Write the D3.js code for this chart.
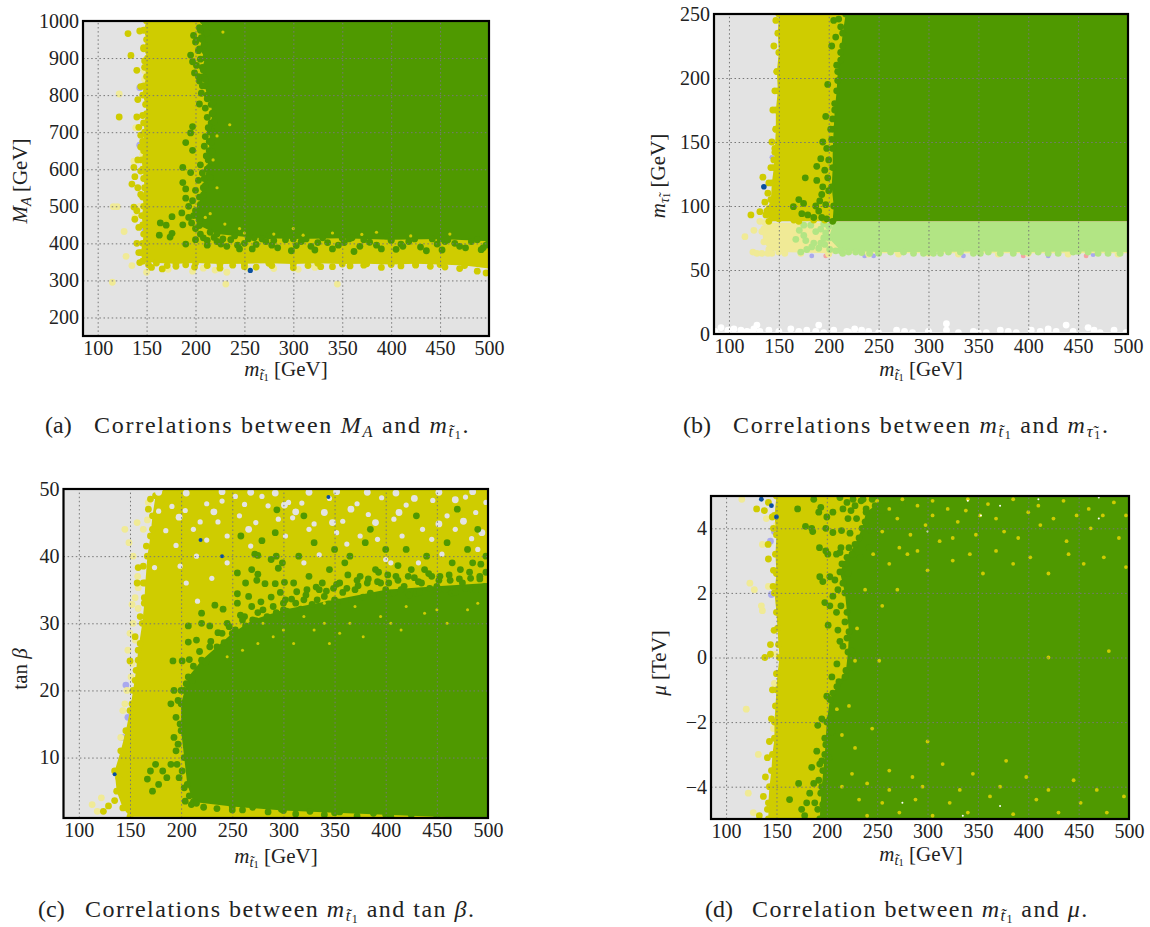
<!DOCTYPE html>
<html><head><meta charset="utf-8">
<script src="https://cdnjs.cloudflare.com/ajax/libs/d3/7.8.5/d3.min.js"></script>
<style>html,body{margin:0;background:#fff}svg{display:block}text{font-family:"Liberation Serif",serif;fill:#222}</style>
</head><body><svg id="c" width="1150" height="927"></svg>
<script>
// ---------- ticks ----------
const xTicks=[100,150,200,250,300,350,400,450,500];
const aTicks=[200,300,400,500,600,700,800,900,1000];
const bTicks=[0,50,100,150,200,250];
const cTicks=[10,20,30,40,50];
const dTicks=[-4,-2,0,2,4];
// ---------- panel (a) M_A vs stop mass ----------
const aYellowBody=[[150,1000],[147,975],[150,950],[147,925],[151,900],[148,875],[150,850],[147,825],[146,800],[149,775],[150,750],[147,725],[148,700],[146,675],[147,650],[145,625],[146,600],[147,575],[148,550],[146,525],[147,500],[145,475],[146,450],[147,425],[146,400],[144,375],[146,352],[160,347],[180,345],[200,347],[225,344],[250,345],[275,346],[300,344],[325,346],[350,344],[375,345],[400,343],[425,345],[450,343],[475,340],[500,332],[500,1000]];
const aYellowDots=[[131,966],[134,907],[140,867],[122,741],[143,973],[147,928],[148,892],[144,823],[141,788],[146,745],[140,741],[142,713],[144,692],[144,660],[141,625],[137,605],[144,595],[138,580],[135,560],[141,550],[144,532],[137,498],[140,488],[138,465],[142,443],[140,400],[142,375],[143,348],[155,335],[166,331],[180,338],[199,336],[225,333],[262,336],[300,334],[340,337],[390,335],[440,338],[470,332],[488,325],[497,320],[152,342],[171,340],[190,342],[212,340],[238,341],[250,337],[278,340],[315,340],[328,337],[358,339],[372,341],[410,339],[425,341],[455,336]];
const aPaleDots=[[122,803],[116,499],[120,499],[127,432],[137,622],[148,843],[148,865],[139,712],[146,640],[143,500],[138,470],[208,333],[220,328],[232,322],[253,333],[305,330],[345,290],[231,290],[129,365],[115,295],[135,340],[150,322],[172,330],[197,325],[280,332],[322,335]];
const aGreenBody=[[208,1000],[205,975],[207,950],[204,925],[210,900],[207,875],[208,850],[210,825],[212,800],[216,775],[217,750],[216,725],[215,700],[214,675],[214,650],[213,625],[212,600],[209,575],[208,550],[204,525],[205,500],[198,475],[204,448],[222,425],[260,415],[300,412],[350,414],[400,410],[450,412],[500,406],[500,1000]];
const aGreenDots=[[198,961],[200,943],[195,908],[197,890],[199,860],[204,838],[204,776],[197,715],[195,698],[190,672],[197,651],[187,605],[195,591],[187,564],[190,547],[190,522],[186,482],[176,472],[164,455],[170,449],[187,450],[176,427],[174,417],[163,422],[190,398],[200,410],[200,440],[208,415],[215,430],[222,405],[232,392],[240,420],[250,400],[258,385],[268,412],[278,395],[288,425],[298,380],[308,405],[318,392],[330,415],[340,385],[352,402],[362,378],[372,410],[385,395],[395,420],[405,384],[418,405],[430,390],[442,412],[452,382],[465,400],[476,388],[488,410],[497,395],[212,395],[245,385],[280,408],[325,402],[360,415],[410,398],[455,405],[492,383]];
const aGreenFringe=[[210,990],[204,982],[212,968],[206,955],[201,948],[209,935],[203,920],[211,912],[205,897],[201,880],[208,868],[203,850],[210,842],[207,825],[214,815],[206,805],[212,790],[218,780],[210,765],[218,752],[212,740],[219,728],[213,712],[218,700],[210,688],[216,672],[209,662],[217,648],[211,636],[216,622],[205,612],[214,605],[207,590],[215,578],[203,570],[210,556],[200,543],[208,530],[197,515],[205,505],[193,500],[200,488],[193,470],[204,462],[196,455],[205,425],[212,408],[219,416],[226,398],[236,410],[243,395],[254,412],[262,397],[272,405],[284,388],[292,410],[303,394],[313,412],[322,382],[335,402],[346,395],[357,412],[368,392],[378,403],[390,385],[400,408],[412,392],[424,412],[436,380],[447,398],[458,410],[470,392],[482,405],[494,388],[499,412],[228,412],[275,420]];
const aSpecks=[[215,480],[230,452],[250,428],[280,425],[310,422],[340,428],[370,424],[420,420],[460,425],[222,550],[218,625],[235,720],[228,970],[222,690],[210,470],[245,440],[300,440],[385,430]];
const aLavender=[[143,820],[143,665],[148,440]];
const aBlue=[[256,327]];
// ---------- panel (b) stau mass vs stop mass ----------
const bYellowBody=[[150,250],[149,235],[150,220],[148,205],[149,190],[147,175],[147,160],[146,145],[145,130],[143,118],[142,105],[138,96],[140,88],[170,88],[500,88],[500,250]];
const bYellowDots=[[134,122.5],[122,93],[131,95.6],[145,136],[147,245],[145,225],[148,205],[146,190],[144,175],[147,160],[143,150],[146,142],[142,130],[140,118],[139,110],[136,103],[140,98],[137,93],[150,90],[165,89],[185,89],[196,89]];
const bGreenBody=[[217,250],[214,235],[212,220],[209,205],[208,190],[206,175],[205,160],[204,145],[204,130],[203,115],[205,100],[204,88],[500,88],[500,250]];
const bGreenDots=[[176.5,122],[164.6,99.5],[170,105],[174.8,102],[173,94],[179,93],[188,120],[188,131],[192,137],[194,115],[193,109],[197,101],[190,96],[198,90],[187,100],[205,245],[212,240],[203,225],[208,210],[199,195],[206,180],[197,170],[202,160],[194,150],[198,145],[185,91],[193,91],[208,91],[196,128],[199,122],[191,104],[200,112],[214,225],[209,198],[204,168],[210,246],[200,136],[203,152],[207,232],[212,214]];
const bPaleBody=[[136,87],[133,80],[135,72],[140,66],[150,64],[200,63],[300,63],[400,63],[500,63],[500,87]];
const bPaleDots=[[116,76],[125,81],[124,64],[128,63],[133,63],[139,63],[143,63],[131,88],[135,82],[156,63],[172,63],[200,62.5],[240,62.5],[270,62.5],[330,62.5],[370,62.5],[440,62.5],[490,62.5]];
const bLimeBody=[[205,87.5],[200,75],[212,65],[250,64],[300,64],[350,64.5],[400,64],[450,64.5],[500,64],[500,87.5]];
const bLimeDots=[[170.5,81],[175,77],[167,74],[177,73],[183,68],[172,64],[187,80],[192,82],[185,71],[195,75],[192,71],[201,66],[207,65],[220,64],[233,63.5],[250,63],[262,64],[285,63],[305,63],[320,64],[345,63],[360,64],[385,63],[410,64],[430,63],[460,64],[480,63],[175,85],[195,86],[182,85],[200,84],[197,79],[190,67],[196,70],[178,66],[214,63],[227,64],[241,63],[275,64],[295,63],[312,63],[332,64],[352,63],[372,63],[395,64],[420,63],[445,64],[470,63],[492,63]];
const bLavender=[[143,138],[147,125],[143,66],[183,61],[236,61],[245,61],[335,61],[420,61],[465,62]];
const bPink=[[197,61],[395,61],[458,61]];
const bBlue=[[135,115]];
const bWhiteBody=[[85,0],[85,2],[120,1.5],[170,1.5],[220,1.5],[300,1.5],[350,1],[420,1.5],[500,1.5],[500,0]];
const bWhite=[[86,2],[92,5],[99,3],[105,4],[112,3],[118,2],[125,4],[131,2],[140,3],[150,2],[162,4],[170,2],[178,3],[187,2],[195,1],[205,3],[218,2],[226,4],[233,3],[240,2],[250,1],[268,3],[276,2],[284,1],[300,2],[318,3],[330,1],[345,2],[358,1],[372,3],[380,2],[388,1],[403,3],[412,2],[420,4],[428,2],[445,2],[460,5],[466,3],[472,1],[486,3],[498,1],[128,7],[190,7],[318,8],[438,7]];
// ---------- panel (c) tan beta vs stop mass ----------
const cYellowBody=[[150,1.2],[143,2.5],[137,5],[135,8],[141,11],[146,14],[150,17],[153,20],[156,23],[158,26],[162,30],[164,33],[165,36],[167,40],[170,43],[172,46],[175,49],[185,50],[500,50],[500,1]];
const cYellowDots=[[129,2.8],[124,2],[135,3.6],[150,24.4],[158,38.3],[163,38.5],[157,36],[164,33.8],[170,48.5],[168,47],[172,44],[178,43.5],[181,48.5],[193,49.6],[229,49.8],[254,49.7],[280,49.8],[310,49.7],[340,49.8],[365,49.7],[400,49.8],[440,49.7],[470,49.8],[498,49.7],[160,31],[155,28],[158,24.5],[139,7],[143,9.5],[148,13],[152,18],[155,21.5],[160,27],[163,36],[166,41.5]];
const cPaleDots=[[157,45],[167,45.4],[163,44],[168,48],[157.5,37],[158,35.3],[155,33.8],[152,32.8],[158,32.2],[153,30],[150,28.5],[155,27.5],[148,26],[152,24],[151,22],[147,20],[145,18],[143,17],[141,13],[113,3],[118,2],[122,4],[149,42],[153,40],[145,44]];
const cGreenBody=[[212,3.4],[206,6],[203,10],[200,14],[200,18],[207,22],[220,24.5],[235,26.5],[250,28.5],[270,30.5],[300,32],[350,33.5],[400,35],[450,35.5],[500,36],[500,1],[450,1.2],[400,1.5],[350,1.8],[300,2.1],[250,2.7]];
const cGreenDots=[[293.6,46.9],[292,43.5],[258.4,43],[279,42.3],[272,40.3],[275,40.1],[288,39.5],[293,40],[299,39],[295,38.2],[269,38],[255,37.5],[275,37.3],[263,36],[274,36.4],[282,35.9],[292,35.9],[301,36.1],[255,34.4],[266,34],[233,32.7],[220,31.5],[241,32.1],[255,33],[207,29.6],[220,30],[228,29.6],[207,27.2],[215,27.5],[192,24.4],[201,24.4],[208,24.6],[320,46],[385,44],[430,46],[470,47],[490,44],[480,41],[460,42],[440,40],[420,41],[400,41],[380,42],[365,40],[350,41],[330,42],[315,40],[345,38],[360,39],[375,37],[390,38],[410,37],[425,38],[445,37],[465,39],[485,39],[498,40],[310,36],[325,37],[335,35],[355,36],[370,35],[395,36],[415,35],[435,36],[455,35],[475,36],[492,37],[245,30],[262,31],[280,32],[300,33],[320,33.5],[340,34],[385,34.5],[405,34.5],[430,34.5],[465,34.5],[485,35],[170,8],[167,6.8],[175,9],[182,8],[178,6],[172,5],[186,7],[190,9],[195,11],[193,13],[198,7],[204,3.5],[210,3],[222,2.6],[235,2.4],[250,2.2],[200,20],[205,21],[190,18],[193,20]];
const cGreenFringe=[[212,23.6],[218,25.8],[224,24.2],[229,27.3],[236,28.6],[242,27.1],[247,29.5],[253,29],[258,31.2],[263,29.6],[269,32.5],[273,30.4],[278,33.2],[284,31],[288,33.9],[293,31.6],[297,34.6],[303,31.8],[308,33.6],[313,34.7],[317,32.1],[323,35],[328,32.8],[333,33.5],[338,36],[344,32.9],[349,35.2],[353,33.2],[358,34.6],[363,37.2],[367,33.4],[373,35.6],[378,33.9],[383,36.6],[388,34],[393,37.6],[398,34.3],[403,36],[408,34.5],[412,38.6],[418,35.5],[423,34.2],[428,36.8],[433,34.6],[438,38],[443,35.2],[448,34.2],[453,37],[458,35],[463,36.4],[468,34.6],[473,38],[478,35.2],[483,36.7],[488,35],[493,38.8],[497,35.5],[199,15],[197,12],[201,8],[196,9],[203,5.5],[208,4.3],[215,3.2],[195,16],[197,18.5],[203,20],[211,21.5],[302,33.5],[312,33],[322,34.2],[332,35.4],[342,34.8],[352,35.8],[362,35.2],[372,36.4],[382,36],[392,36.2],[402,37.2],[412,36.4],[422,37],[432,36.2],[442,37.4],[452,36.4],[462,37.2],[472,36.6],[482,37.6],[492,36.6],[498,37.6],[260,30.5],[275,31.6],[290,32.5],[240,28.5],[228,26.5],[260,2.2],[270,2.6],[285,1.9],[298,2.3],[312,1.6],[326,2],[340,1.5],[355,1.9],[372,1.3],[388,1.7],[405,1.2],[425,1.5]];
const cGrayHoles=[[218.6,45.1],[236,45.1],[257,46],[273,45],[212,44],[195,41.6],[225,42.4],[245,43],[185,43.8],[178,46.7],[191,47.4],[204,46.8],[225,47.8],[240,48.2],[253,48.9],[279,48.9],[295,45.5],[305,48],[309,45.7],[302,43],[199,38.5],[216,33.3],[174,38.3],[230,36.7],[268,41.5],[285,47.5],[262,47.7],[318,47.9],[330,44.8],[345,48.6],[358,45.2],[372,47.8],[383,46.2],[396,48.7],[408,45.5],[420,47.6],[436,44],[446,48.3],[460,46],[478,48.8],[488,46.5],[325,44],[352,43.5],[375,43],[392,42.5],[416,43],[445,42.5],[468,44],[484,42.6],[498,48],[335,40.2],[362,41.8],[400,39.5],[432,39],[455,40.3],[482,37.5],[245,39],[215,40],[205,36],[320,39],[405,39],[490,41]];
const cGrayHolesBig=[[178,49.5],[205,49.4],[240,49.6],[268,49.5],[292,49.4],[325,49.5],[352,49.6],[382,49.5],[410,49.4],[452,49.5],[485,49.6],[198,45.8],[232,46.6],[266,44],[312,46.6],[340,46.5],[366,47],[390,45],[428,48.6],[452,44.8],[476,45.2],[301,47.6],[348,45],[413,46.5],[468,48.4],[494,43.5]];
const cSpecks=[[300,29],[320,31],[310,27],[340,30],[345,27],[365,30],[378,28],[395,31],[415,29],[438,31.5],[460,30],[480,32],[290,28],[275,27],[260,26],[245,25],[340,33],[420,32.5],[370,32.5],[330,29],[355,28.5],[405,30],[450,32],[490,33],[280,30]];
const cLavender=[[146,20.8],[143,13],[148,16]];
const cBlue=[[135,7.5],[219,42.4],[240,40],[344,48.8]];
// ---------- panel (d) mu vs stop mass ----------
const dYellowBody=[[150,5],[148,4.4],[150,3.8],[149,3.2],[150,2.6],[148,2],[150,1.4],[151,0.9],[152,0.4],[153,0],[151,-0.5],[150,-1],[149,-1.5],[148,-2],[148,-2.5],[146,-3],[145,-3.5],[143,-4],[142,-4.5],[142,-5],[500,-5],[500,5]];
const dYellowDots=[[130.3,4.6],[138,4.55],[145.8,4.35],[141.7,3.5],[142,3.05],[147,2.7],[146.6,2.2],[147.6,0.84],[144,0.4],[144,0.1],[138.4,0],[150,-0.5],[142,4.8],[147,4],[146,-1],[145,-1.9],[143,-2.6],[141,-3.1],[139,-3.7],[137,-4.3],[141,-4.7],[133,-4.9]];
const dPaleDots=[[123.6,2.3],[128,2.1],[115.6,4.9],[135,1.6],[136,1.45],[136,3.5],[142,2.2],[120,-1.6],[122,-4.2],[132,-3],[127,-4.8],[140,4.3],[150,4.1],[149,0.1],[148,-0.8],[147,-2.2]];
const dGreenBody=[[252,5],[248,4.7],[239,4.5],[235,4],[228,3.5],[220,3.1],[213,2.65],[218,2],[220,1.4],[222,0.8],[221,0.17],[219,-0.4],[210,-0.9],[203,-1.3],[200,-2],[198,-3],[195,-4],[193,-5],[500,-5],[500,5]];
const dGreenDots=[[171,4.6],[178.8,4.06],[185,4],[186,3.9],[192.7,3.4],[199,3.3],[201,3.2],[209.6,3.2],[213,3.25],[214,3.4],[206,3.87],[199,4],[214.6,3.93],[223,3.85],[221,4.3],[229.5,4.3],[216,4.6],[224,4.55],[226,4.9],[239,4.6],[187,4.9],[194,4.65],[192,4.5],[200,4.35],[206,4.5],[213,4.95],[193,2.5],[196,2.35],[203,2.5],[208,2.4],[211,2.1],[206,1.9],[198,1.7],[203,1.6],[209.6,1.4],[201.3,1],[211,0.85],[216,0.35],[215,2.9],[220,4.8],[234,4.85],[245,4.9],[258,4.8],[163,-4.4],[175,-4.7],[183,-4.2],[188,-4.5],[192,-3.8],[185,-3.4],[195,-3.2],[172,-3.9],[197,-4.8],[190,-2.9],[198,-2.5],[195,-1.9],[200,-1.2],[205,-0.6],[210,-0.2],[178,-4.9]];
const dGreenFringe=[[225,3.2],[232,3.7],[238,4.2],[243,3.95],[248,4.4],[252,4.1],[228,4.7],[236,4.9],[250,4.95],[222,3.4],[219,2.9],[216,2.3],[221,2.6],[214,1.6],[218,1.1],[213,0.5],[220,0.6],[225,0.2],[224,-0.3],[218,-0.6],[212,-0.75],[206,-1.1],[208,-1.5],[203,-1.9],[205,-2.3],[199,-2.7],[202,-3.1],[196,-3.5],[199,-3.9],[194,-4.2],[196,-4.55],[191,-4.7],[193,-3.3],[187,-3.9],[180,-4.5],[191,-2.1],[233,3.1],[242,3.4],[255,4.55],[263,4.95],[268,4.4],[275,4.75]];
const dYellowSpecks=[[250,4.85],[262,4.6],[275,4.9],[290,4.7],[305,4.85],[320,4.6],[340,4.9],[360,4.75],[385,4.9],[410,4.7],[435,4.85],[460,4.6],[485,4.8],[255,3.9],[270,4.3],[283,3.8],[298,4.1],[312,3.6],[330,4.2],[348,3.8],[368,4.3],[390,3.7],[412,4.1],[438,3.6],[462,4],[490,3.7],[246,3.2],[262,2.9],[280,3.2],[300,2.7],[325,3],[355,2.6],[385,2.9],[420,2.6],[455,2.9],[238,2.1],[255,1.6],[270,2.1],[230,0.9],[228,-0.1],[252,-0.1],[420,0],[480,0.2],[240,-4.9],[255,-4.5],[272,-4.8],[288,-4.4],[305,-4.9],[322,-4.5],[340,-4.8],[362,-4.3],[385,-4.85],[408,-4.4],[430,-4.8],[452,-4.5],[478,-4.8],[215,-4],[225,-3.6],[240,-3.9],[262,-3.5],[285,-3.7],[315,-3.3],[345,-3.6],[378,-3.2],[215,-2.4],[228,-2.8],[245,-2.2],[300,-2.6],[210,-1.6],[222,-1.5],[272,3.4],[290,3.3],[305,4.4],[325,3.7],[338,4.55],[352,4.4],[376,3.9],[400,4.5],[425,4.3],[448,4.4],[474,4.4],[497,4.4],[342,3.2],[368,3.3],[402,3.1],[440,3.2],[475,3.1],[497,2.8],[232,-4.4],[262,-4.1],[295,-4],[332,-4.1],[372,-4],[398,-3.7],[420,-4.1],[445,-3.8],[468,-4.1],[495,-4.3]];
const dWhiteSpecks=[[340,4.85],[372,4.7],[410,4.9],[470,4.95],[300,3.9],[353,4.4],[470,4.3],[335,-4.9],[372,-4.6],[275,-4.5]];
const dLavender=[[145,1.95],[144,3.6],[148,3.9]];
const dBlue=[[135,4.9],[150,4.35],[145,4.7]];

// ---------- colours ----------
const GRAY="#e3e3e3",YEL="#cfcc00",GRN="#4f9900",PALE="#f0ea96",LIME="#b2e584",BLUE="#0a4f9f",LAV="#a9a9ee",PINK="#f5a3a3";
const svg=d3.select("#c");

function mathText(g,x,y,size,segs,anchor){
  const t=g.append("text").attr("x",x).attr("y",y).attr("font-size",size).attr("text-anchor",anchor||"middle").attr("xml:space","preserve");
  let prev=0;
  for(const [s,lvl,it] of segs){
    const off=lvl===1?size*.18:lvl===2?size*.25:0;
    t.append("tspan").text(s).attr("dy",off-prev)
      .attr("font-size",lvl===1?size*.68:lvl===2?size*.5:size)
      .attr("font-style",it?"italic":"normal");
    prev=off;
  }
  return t;
}
function fit(t,w){
  const n=t.text().length,l=t.node().getComputedTextLength();
  t.attr("letter-spacing",(w-l)/n);
}
const STOP=[["m",0,1],["t̃",1,1],["1",2,0]];
const STAU=[["m",0,1],["τ̃",1,1],["1",2,0]];

function panel(p){
  const x=d3.scaleLinear().domain([85,500]).range([p.L,p.R]);
  const y=d3.scaleLinear().domain(p.dom).range([p.B,p.T]);
  const w=p.R-p.L,h=p.B-p.T;
  const id="clip"+p.name;
  svg.append("clipPath").attr("id",id).append("rect").attr("x",p.L).attr("y",p.T).attr("width",w).attr("height",h);
  const g=svg.append("g").attr("clip-path",`url(#${id})`);
  g.append("rect").attr("x",p.L).attr("y",p.T).attr("width",w).attr("height",h).attr("fill",GRAY);
  const poly=d3.line().x(d=>x(d[0])).y(d=>y(d[1]));
  for(const l of p.layers){
    if(l.body){
      g.append("path").attr("d",poly(l.body)+"Z").attr("fill",l.c);
      g.append("g").selectAll("circle").data(l.body.filter(d=>d[0]<500)).join("circle")
        .attr("cx",d=>x(d[0])).attr("cy",d=>y(d[1])).attr("r",3.4).attr("fill",l.c);
    }
    if(l.dots){
      g.append("g").selectAll("circle").data(l.dots).join("circle")
        .attr("cx",d=>x(d[0])).attr("cy",d=>y(d[1])).attr("r",l.r||3.4).attr("fill",l.c);
    }
  }
  // grid
  const gx=g.append("g").attr("transform",`translate(0,${p.B})`).call(d3.axisBottom(x).tickValues(xTicks).tickSize(-h).tickFormat(""));
  const gy=g.append("g").attr("transform",`translate(${p.L},0)`).call(d3.axisLeft(y).tickValues(p.ticks).tickSize(-w).tickFormat(""));
  for(const a of [gx,gy]){a.select(".domain").remove();a.selectAll("line").attr("stroke","#777").attr("stroke-width",1).attr("stroke-dasharray","1.5,2.6");}
  // frame
  svg.append("rect").attr("x",p.L).attr("y",p.T).attr("width",w).attr("height",h).attr("fill","none").attr("stroke","#000").attr("stroke-width",2.2);
  // labels
  const ax=svg.append("g").attr("transform",`translate(0,${p.B})`).call(d3.axisBottom(x).tickValues(xTicks).tickSize(0).tickPadding(5).tickFormat(d3.format("d")));
  const ay=svg.append("g").attr("transform",`translate(${p.L},0)`).call(d3.axisLeft(y).tickValues(p.ticks).tickSize(0).tickPadding(4).tickFormat(d=>String(d).replace("-","−")));
  for(const a of [ax,ay]){a.select(".domain").remove();a.selectAll("text").attr("font-size",20).attr("font-family",'"Liberation Serif",serif').attr("fill","#222");}
  mathText(svg,p.xl[0],p.xl[1],21,[...STOP,[" [GeV]",0,0]]);
  const yg=svg.append("g").attr("transform",`translate(${p.yl[0]},${p.yl[1]}) rotate(-90)`);
  mathText(yg,0,0,21,p.ylabel);
  // caption
  const cy=p.cap.y;
  svg.append("text").attr("x",p.cap.x0).attr("y",cy).attr("font-size",24).text(p.cap.tag);
  const ct=mathText(svg,p.cap.x1,cy,24,p.cap.segs,"start");
  fit(ct,p.cap.w);
}

panel({name:"a",L:83,R:489,T:21,B:336,dom:[150,1000],ticks:aTicks,xl:[286,376],yl:[27,181],
  ylabel:[["M",0,1],["A",1,1],[" [GeV]",0,0]],
  cap:{tag:"(a)",x0:45,x1:94,y:433,w:378,segs:[["Correlations between ",0,0],["M",0,1],["A",1,1],[" and ",0,0],...STOP,[".",0,0]]},
  layers:[{dots:aLavender,c:LAV},{dots:aPaleDots,c:PALE},{body:aYellowBody,c:YEL},{dots:aYellowDots,c:YEL},{body:aGreenBody,c:GRN},{dots:aGreenDots,c:GRN},{dots:aGreenFringe,c:GRN},{dots:aSpecks,c:YEL,r:1.6},{dots:aBlue,c:BLUE,r:2.6}]});

panel({name:"b",L:714,R:1128,T:14,B:334,dom:[0,250],ticks:bTicks,xl:[921,376],yl:[665,176],
  ylabel:[...STAU,[" [GeV]",0,0]],
  cap:{tag:"(b)",x0:683,x1:733,y:433,w:380,segs:[["Correlations between ",0,0],...STOP,[" and ",0,0],...STAU,[".",0,0]]},
  layers:[{body:bWhiteBody,c:"#fff"},{dots:bWhite,c:"#fff"},{dots:bLavender,c:LAV,r:2.4},{dots:bPink,c:PINK,r:2.4},{body:bPaleBody,c:PALE},{dots:bPaleDots,c:PALE},{body:bLimeBody,c:LIME},{dots:bLimeDots,c:LIME},{body:bYellowBody,c:YEL},{dots:bYellowDots,c:YEL},{body:bGreenBody,c:GRN},{dots:bGreenDots,c:GRN},{dots:bBlue,c:BLUE,r:2.8}]});

panel({name:"c",L:63.5,R:488,T:489,B:818,dom:[1,50],ticks:cTicks,xl:[276,863],yl:[27,669],
  ylabel:[["tan ",0,0],["β",0,1]],
  cap:{tag:"(c)",x0:38,x1:85,y:917,w:392,segs:[["Correlations between ",0,0],...STOP,[" and tan ",0,0],["β",0,1],[".",0,0]]},
  layers:[{dots:cLavender,c:LAV},{dots:cPaleDots,c:PALE},{body:cYellowBody,c:YEL},{dots:cYellowDots,c:YEL},{dots:cGrayHoles,c:GRAY,r:2.6},{dots:cGrayHolesBig,c:GRAY,r:3.4},{body:cGreenBody,c:GRN},{dots:cGreenDots,c:GRN},{dots:cGreenFringe,c:GRN},{dots:cSpecks,c:YEL,r:1.5},{dots:cBlue,c:BLUE,r:2}]});

panel({name:"d",L:711,R:1129,T:496,B:819,dom:[-5,5],ticks:dTicks,xl:[921,861],yl:[666,663],
  ylabel:[["μ",0,1],[" [TeV]",0,0]],
  cap:{tag:"(d)",x0:705,x1:752,y:917,w:338,segs:[["Correlation between ",0,0],...STOP,[" and ",0,0],["μ",0,1],[".",0,0]]},
  layers:[{dots:dLavender,c:LAV},{dots:dPaleDots,c:PALE},{body:dYellowBody,c:YEL},{dots:dYellowDots,c:YEL},{body:dGreenBody,c:GRN},{dots:dGreenDots,c:GRN},{dots:dGreenFringe,c:GRN},{dots:dYellowSpecks,c:YEL,r:1.9},{dots:dWhiteSpecks,c:"#fff",r:1},{dots:dBlue,c:BLUE,r:2.4}]});
</script></body></html>
